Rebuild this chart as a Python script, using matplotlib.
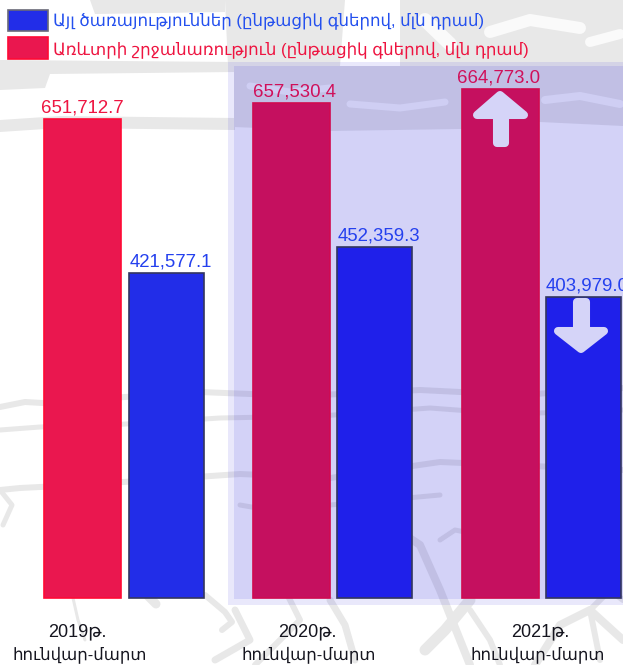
import matplotlib
matplotlib.use("Agg")
import matplotlib.pyplot as plt
from matplotlib.patches import Polygon, Rectangle
import numpy as np

plt.rcParams['font.family'] = ['Liberation Sans', 'DejaVu Sans']

# data
years = ["2019թ.", "2020թ.", "2021թ."]
period = "հունվար-մարտ"
trade_values = [651712.7, 657530.4, 664773.0]
service_values = [421577.1, 452359.3, 403979.0]
trade_name = "Առևտրի շրջանառություն (ընթացիկ գներով, մլն դրամ)"
service_name = "Այլ ծառայություններ (ընթացիկ գներով, մլն դրամ)"

# the original bars are not proportional to their labels, so the y axis is
# a piecewise scale: value -> height in px above the baseline
scale_vals = [0, 403979.0, 421577.1, 452359.3, 651712.7, 657530.4, 664773.0, 740000]
scale_px = [0, 301, 325, 351, 479, 495, 509, 598]

# layout, px
W, H = 623, 665
base_y = 598
trade_x = [82, 291, 500]
service_x = [166, 374, 583]
trade_w = 77
service_w = 75
trade_lab_dx = [0, 4, -1]
service_lab_dx = [5, 5, 4]
year_x = [77, 307, 540]
period_x = [80, 309, 538]

# set colors
pink = ["#ea174f", "#c5105f", "#c5105f"]
pink_edge = ["#ff0a35", "#d00a50", "#d00a50"]
blue = ["#222de8", "#1f20ea", "#1f20ea"]
blue_edge = "#33365f"
pink_txt = ["#ee1440", "#d0105a", "#d0105a"]
blue_txt = "#2440ee"
grey = "#e8e8e8"

fig = plt.figure(figsize=(W / 100, H / 100), dpi=100)

# background layer in px coordinates
bg = fig.add_axes([0, 0, 1, 1], zorder=0)
bg.set_xlim(0, W)
bg.set_ylim(H, 0)
bg.axis("off")

# faint watermark: blocks at the top
blocks = [
    [(225, 0), (345, 0), (340, 66), (228, 66)],
    [(90, 0), (225, 0), (225, 12), (95, 14)],
    [(400, 0), (623, 0), (623, 66), (400, 66)],
    [(0, 60), (235, 62), (235, 72), (50, 74), (45, 88), (0, 90)],
    [(0, 120), (60, 116), (235, 118), (235, 130), (60, 128), (0, 132)],
    [(234, 66), (623, 66), (623, 126), (540, 122), (460, 129), (330, 131), (234, 127)],
]
for pts in blocks:
    bg.add_patch(Polygon(pts, closed=True, facecolor=grey, edgecolor="none", zorder=1))

# lighter holes in the blocks
holes = [
    ([490, 530, 580], [32, 20, 28], 12),
    ([590, 620], [42, 34], 10),
    ([250, 290, 330], [86, 92, 88], 7),
    ([350, 400, 445], [104, 108, 102], 7),
    ([545, 580, 620], [100, 96, 104], 8),
    ([425, 450], [20, 44], 14),
]
for sx, sy, w in holes:
    bg.plot(sx, sy, color="#fafafa", lw=w * 0.72, solid_capstyle="round", zorder=1.5)

# strokes lower down
strokes = [
    ([0, 25, 60, 110, 200, 300, 420, 520, 623], [407, 402, 404, 398, 392, 396, 390, 395, 388], 6),
    ([0, 40, 110, 220, 320, 430, 510, 623], [430, 427, 425, 418, 416, 408, 414, 410], 5),
    ([0, 20, 80, 240, 330, 440, 623], [490, 488, 485, 474, 478, 462, 470], 6),
    ([240, 280, 330, 440], [505, 512, 505, 495], 5),
    ([0, 12, 3], [490, 505, 525], 5),
    ([73, 78, 85], [598, 620, 640], 3),
    ([148, 156], [596, 604], 9),
    ([205, 225, 232, 222], [595, 612, 622, 630], 6),
    ([268, 285, 300, 270, 255], [560, 590, 620, 650, 665], 6),
    ([330, 345, 355], [600, 625, 660], 7),
    ([405, 420, 440, 470], [535, 545, 590, 665], 8),
    ([440, 455, 480], [540, 530, 535], 5),
    ([470, 445, 425], [600, 630, 650], 11),
    ([535, 560, 590, 623], [665, 625, 610, 640], 8),
    ([600, 590, 610, 623], [660, 610, 590, 600], 6),
    ([235, 250, 215], [610, 640, 660], 7),
    ([470, 490, 500], [610, 640, 665], 6),
]
for sx, sy, w in strokes:
    bg.plot(sx, sy, color=grey, lw=w * 0.72, solid_capstyle="round", solid_joinstyle="round", zorder=1)

# highlighted region (2020 and 2021), two nested translucent boxes
bg.add_patch(Rectangle((228, 62), W - 228, 543, facecolor="#2823dc", alpha=0.1, lw=0, zorder=2))
bg.add_patch(Rectangle((234, 66), W - 234, 533, facecolor="#2823dc", alpha=0.11, lw=0, zorder=3))

# bars, in data coordinates
ax = fig.add_axes([0, (H - base_y) / H, 1, base_y / H], zorder=1)
ax.patch.set_alpha(0)
ax.set_yscale("function", functions=(
    lambda v: np.interp(v, scale_vals, scale_px),
    lambda p: np.interp(p, scale_px, scale_vals),
))
ax.set_xlim(0, W)
ax.set_ylim(0, scale_vals[-1])
ax.axis("off")
ax.bar(trade_x, trade_values, width=trade_w, color=pink, edgecolor=pink_edge, linewidth=1.2, clip_on=False)
ax.bar(service_x, service_values, width=service_w, color=blue, edgecolor=blue_edge, linewidth=1.2, clip_on=False)

for i in range(3):
    ax.annotate(f"{trade_values[i]:,.1f}", (trade_x[i] + trade_lab_dx[i], trade_values[i]),
                xytext=(0, 2), textcoords="offset points", ha="center", va="bottom",
                fontsize=13.4, color=pink_txt[i])
    ax.annotate(f"{service_values[i]:,.1f}", (service_x[i] + service_lab_dx[i], service_values[i]),
                xytext=(0, 2), textcoords="offset points", ha="center", va="bottom",
                fontsize=13.4, color=blue_txt)

# foreground: arrows, legend, category labels
fg = fig.add_axes([0, 0, 1, 1], zorder=2)
fg.patch.set_alpha(0)
fg.set_xlim(0, W)
fg.set_ylim(H, 0)
fg.axis("off")

arrow_up = [(500, 95), (524, 115), (505, 115), (505, 143), (497, 143), (497, 115), (477, 115)]
arrow_down = [(581, 349), (604, 331), (586, 331), (586, 302), (577, 302), (577, 331), (558, 331)]
for pts in (arrow_up, arrow_down):
    fg.add_patch(Polygon(pts, closed=True, facecolor="#d5d4f8", edgecolor="#d5d4f8",
                         lw=5.8, joinstyle="round"))

fg.add_patch(Rectangle((7.5, 9.5), 40, 21, facecolor="#222de8", edgecolor="#6a6a78", lw=1.2))
fg.add_patch(Rectangle((7.5, 36.5), 40, 22, facecolor="#ea174f", edgecolor="#ff0a35", lw=1.2))
fg.text(53, 21, service_name, fontsize=12, color="#2450ee", va="center", ha="left")
fg.text(53, 50, trade_name, fontsize=12, color="#ee1440", va="center", ha="left")

for i in range(3):
    fg.text(year_x[i], 632, years[i], fontsize=13, color="#15151f", ha="center", va="center")
    fg.text(period_x[i], 655, period, fontsize=11.9, color="#15151f", ha="center", va="center")

fig.savefig("out.png", dpi=100)
